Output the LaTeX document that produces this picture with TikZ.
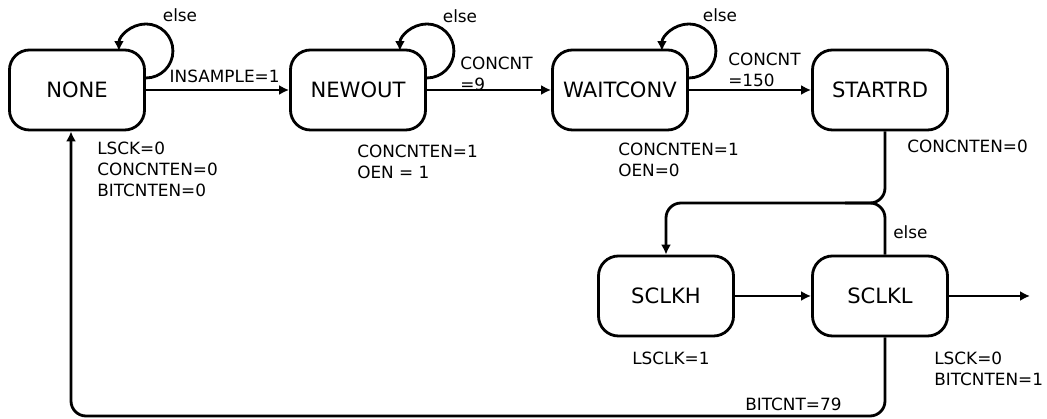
\documentclass[tikz,border=0pt]{standalone}
\usepackage{fontspec}
\setmainfont{DejaVu Sans}
\usetikzlibrary{arrows.meta}
\tikzset{>={Latex[length=7pt,width=7pt]}}
\tikzset{
  state/.style={draw, line width=2pt, rounded corners=0.5cm,
    minimum width=3.375cm, minimum height=2cm,
    font=\fontsize{15}{18}\selectfont},
  lbl/.style={font=\fontsize{12}{15}\selectfont, align=left, inner sep=0pt},
  wire/.style={line width=2pt}
}

\begin{document}
\begin{tikzpicture}[x=0.025cm,y=0.025cm]
  \useasboundingbox (0,0) rectangle (1047,419);

  \node[state] (none) at (77,329) {NONE};
  \node[state] (newout) at (358,329) {NEWOUT};
  \node[state] (waitconv) at (620,329) {WAITCONV};
  \node[state] (startrd) at (880,329) {STARTRD};
  \node[state] (sclkh) at (666,123) {SCLKH};
  \node[state] (sclkl) at (880,123) {SCLKL};

  \coordinate (bend) at (885,216);
  \coordinate (low) at (885,3);
  \coordinate (back) at (71,3);
  \coordinate (exit) at (1030,123);

  \draw[wire,->] ([yshift=0.3cm]none.east) arc[start angle=-90,end angle=180,radius=0.675cm];
  \draw[wire,->] ([yshift=0.3cm]newout.east) arc[start angle=-90,end angle=180,radius=0.675cm];
  \draw[wire,->] ([yshift=0.3cm]waitconv.east) arc[start angle=-90,end angle=180,radius=0.675cm];
  \node[lbl] (else1) at (180,404) {else};
  \node[lbl] (else2) at (460,403) {else};
  \node[lbl] (else3) at (720,404) {else};

  \draw[wire,->] (none) -- node[lbl,above=4pt,pos=0.55] {INSAMPLE=1} (newout);
  \draw[wire,->] (newout) -- (waitconv);
  \draw[wire,->] (waitconv) -- (startrd);
  \node[lbl,anchor=north west] (cnt9) at (460,362) {CONCNT\\=9};
  \node[lbl,anchor=north west] (cnt150) at (728,366) {CONCNT\\=150};

  \draw[wire,->,rounded corners=0.375cm] (startrd.south -| bend) -- (bend) -| (sclkh.north);
  \draw[wire,rounded corners=0.375cm] (sclkl.north -| bend) -- (bend) -- ++(-40,0);
  \node[lbl,anchor=north west] (else4) at (893,194) {else};

  \draw[wire,->] (sclkh) -- (sclkl);
  \draw[wire,->] (sclkl.east) -- (exit);

  \draw[wire,->,rounded corners=0.375cm] (sclkl.south -| low) -- (low) -- (back) -- (none.south -| back);
  \node[lbl,anchor=north west] (bitcnt) at (745,21) {BITCNT=79};

  \node[lbl,anchor=north west] (out1) at (97,277) {LSCK=0\\CONCNTEN=0\\BITCNTEN=0};
  \node[lbl,anchor=north west] (out2) at (357,274) {CONCNTEN=1\\OEN = 1};
  \node[lbl,anchor=north west] (out3) at (618,276) {CONCNTEN=1\\OEN=0};
  \node[lbl,anchor=north west] (out4) at (907,279) {CONCNTEN=0};
  \node[lbl,anchor=north west] (out5) at (632,67) {LSCLK=1};
  \node[lbl,anchor=north west] (out6) at (934,67) {LSCK=0\\BITCNTEN=1};
\end{tikzpicture}
\end{document}
